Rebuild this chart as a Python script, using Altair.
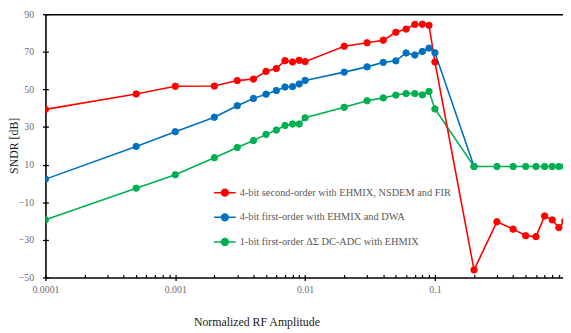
import altair as alt
import pandas as pd

x_vals = [0.0001, 0.0005, 0.001, 0.002, 0.003, 0.004, 0.005, 0.006, 0.007, 0.008, 0.009,
          0.01, 0.02, 0.03, 0.04, 0.05, 0.06, 0.07, 0.08, 0.09, 0.1,
          0.2, 0.3, 0.4, 0.5, 0.6, 0.7, 0.8, 0.9, 1.0]

red = [39.4, 47.6, 51.7, 51.8, 54.7, 55.5, 59.6, 61.1, 65.3, 64.6, 65.5,
       64.8, 73.0, 74.8, 76.2, 80.4, 82.1, 84.6, 84.7, 84.1, 64.6,
       -46.0, -20.4, -24.3, -27.8, -28.3, -17.3, -19.4, -23.5, -20.0]

blue = [2.3, 19.7, 27.5, 35.2, 41.3, 45.2, 47.5, 49.4, 51.3, 51.5, 52.9,
        54.8, 59.2, 62.0, 64.4, 65.2, 69.4, 68.3, 70.2, 72.0, 69.5,
        9.0]

green = [-19.3, -2.5, 4.6, 13.7, 19.1, 22.8, 26.1, 28.4, 30.8, 31.6, 31.6,
         34.9, 40.5, 44.0, 45.5, 47.0, 47.8, 47.8, 47.1, 48.9, 39.6,
         9.0, 9.0, 9.0, 9.0, 9.0, 9.0, 9.0, 9.0, 9.0]

labels = ["4-bit second-order with EHMIX, NSDEM and FIR",
          "4-bit first-order with EHMIX and DWA",
          "1-bit first-order \u0394\u03a3 DC-ADC with EHMIX"]
colors = ["#FF0000", "#0070C0", "#00B050"]

x_major = [0.0001, 0.001, 0.01, 0.1]
x_minor = [m * d for d in [0.0001, 0.001, 0.01, 0.1] for m in range(1, 10)]
y_ticks = [-50, -30, -10, 10, 30, 50, 70, 90]

rows = []
for order, (lab, ys) in zip([1, 0, 2], [(labels[1], blue), (labels[2], green), (labels[0], red)]):
    for xv, yv in zip(x_vals, ys):
        rows.append({"x": xv, "y": yv, "series": lab, "ord": order})
df = pd.DataFrame(rows)

FONT = "'Liberation Serif', 'Times New Roman', 'DejaVu Serif', serif"
XMAX = 0.969

xscale = alt.Scale(type="log", domain=[0.0001, XMAX], nice=False)
yscale = alt.Scale(domain=[-50, 90], nice=False, zero=False)
cscale = alt.Scale(domain=labels, range=colors)

sym = "M-1,0L1,0M0.31,0A0.31,0.31,0,1,1,-0.31,0A0.31,0.31,0,1,1,0.31,0Z"
leg = alt.Legend(title=None, orient="none", legendX=170, legendY=169, padding=0,
                 symbolType=sym, symbolSize=484, symbolStrokeWidth=1.6,
                 labelFont=FONT, labelFontSize=10.5, labelColor="#595959",
                 labelOffset=3, rowPadding=6, labelLimit=400)

base = alt.Chart(df)

lines = base.mark_line(strokeWidth=1.6, clip=True).encode(
    x=alt.X("x:Q", scale=xscale,
            axis=alt.Axis(values=x_major, format=".4~f", title="Normalized  RF Amplitude",
                          grid=False, tickSize=3, tickColor="black", tickWidth=1.3,
                          domainColor="black", domainWidth=1.6,
                          labelFont=FONT, labelFontSize=10, labelColor="#6d6d6d",
                          labelPadding=4, labelFlush=False,
                          titleFont=FONT, titleFontSize=12, titleFontWeight="normal",
                          titleColor="#1a1a1a", titleX=214, titleY=40, titleBaseline="top")),
    y=alt.Y("y:Q", scale=yscale,
            axis=alt.Axis(values=y_ticks, title="SNDR [dB]", grid=False, tickSize=3,
                          tickColor="black", tickWidth=1.3, domainColor="black", domainWidth=1.6,
                          labelFont=FONT, labelFontSize=10, labelColor="#6d6d6d",
                          labelPadding=9, titleX=-32, titleY=133, titleAngle=-90,
                          titleAlign="center", titleBaseline="middle",
                          titleFont=FONT, titleFontSize=12, titleFontWeight="normal",
                          titleColor="#1a1a1a")),
    stroke=alt.Stroke("series:N", scale=cscale, legend=leg),
    order="ord:Q",
    detail="series:N",
)

points = base.mark_point(filled=True, size=42, strokeWidth=1, opacity=1, clip=True).encode(
    x=alt.X("x:Q", scale=xscale,
            axis=alt.Axis(orient="bottom", values=x_minor, offset=-3, tickSize=3, tickColor="black",
                          tickWidth=1.2, labels=False, domain=False, title=None, grid=False)),
    y=alt.Y("y:Q", scale=yscale,
            axis=alt.Axis(orient="left", values=y_ticks, offset=-3, tickSize=3, tickColor="black",
                          tickWidth=1.3, labels=False, domain=False, title=None, grid=False)),
    fill=alt.Fill("series:N", scale=cscale, legend=leg),
    stroke=alt.Stroke("series:N", scale=cscale, legend=leg),
)

border = base.mark_point(opacity=0).encode(
    x=alt.X("x:Q", scale=xscale,
            axis=alt.Axis(orient="top", ticks=False, labels=False, domain=True, domainColor="black",
                          domainWidth=1.6, title=None, grid=False)),
)

chart = alt.layer(lines, points, border).resolve_axis(x="independent", y="independent").properties(
    width=525, height=267,
    autosize=alt.AutoSizeParams(type="none"),
    padding={"left": 38, "top": 4, "right": 0, "bottom": 52},
).configure_view(stroke=None)

chart.save("out.html", embed_options={"renderer": "svg", "actions": False})
